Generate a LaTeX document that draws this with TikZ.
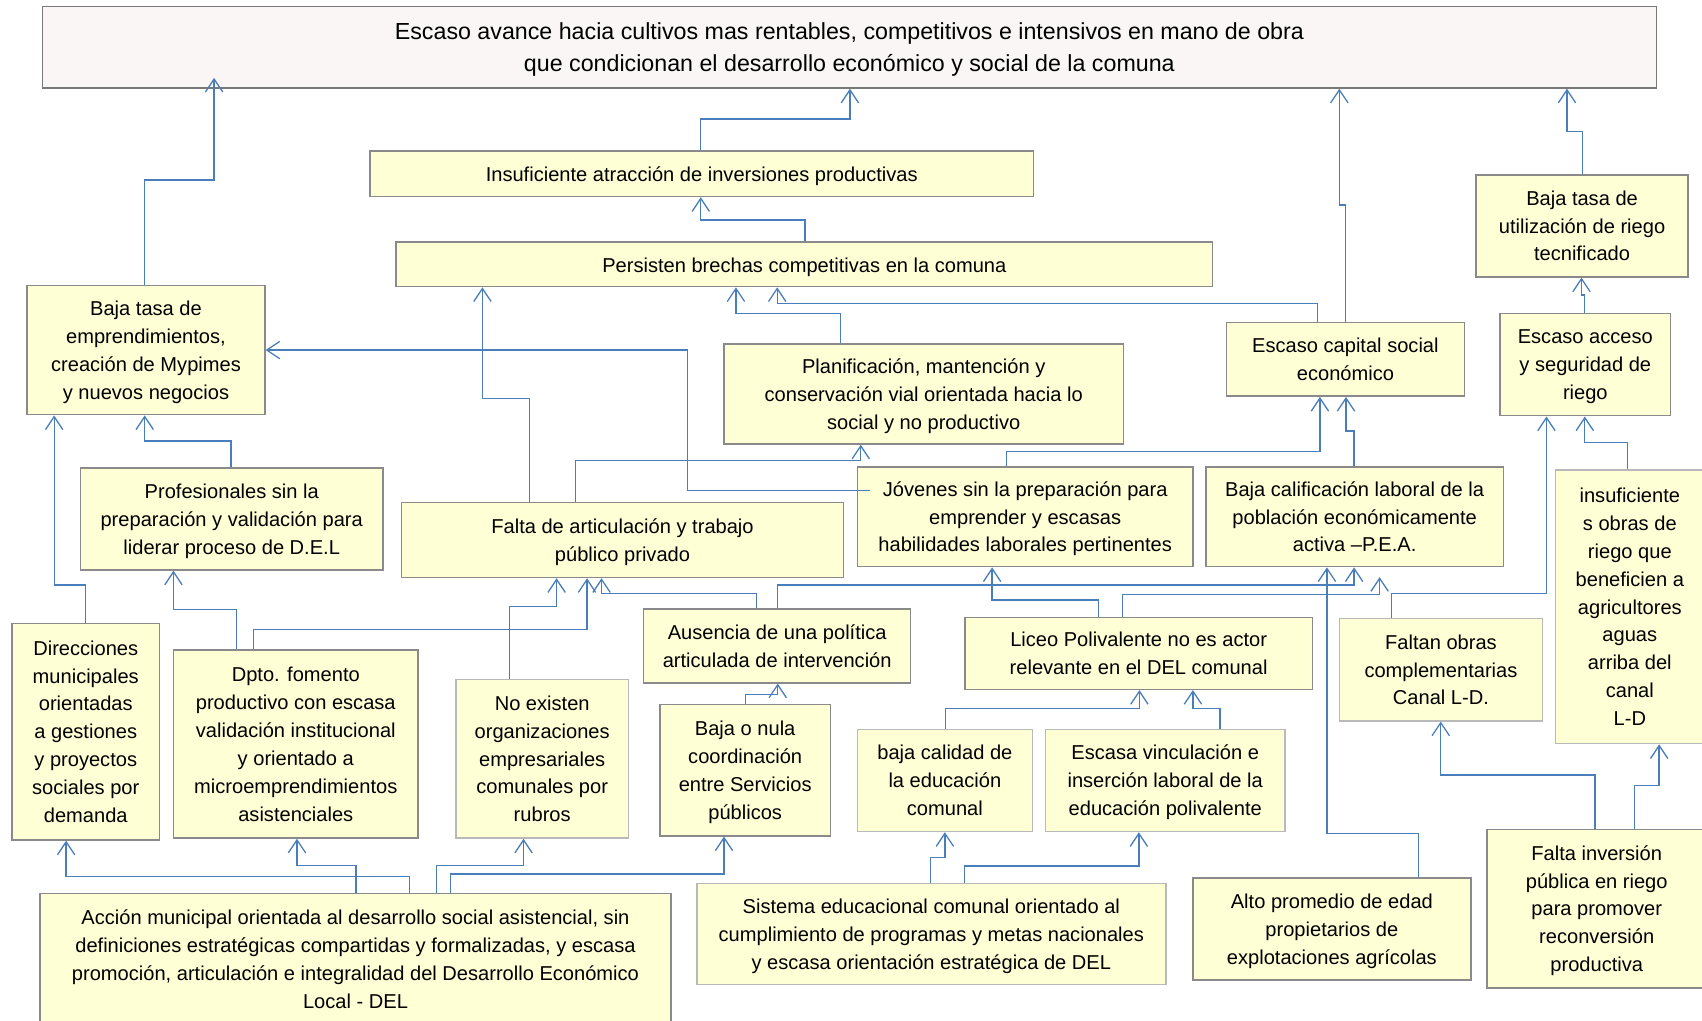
\documentclass[tikz,border=0pt]{standalone}
\usepackage{fontspec}
\setmainfont{Liberation Sans}
\usetikzlibrary{arrows.meta,calc}

\definecolor{linkblue}{HTML}{4A7EBB}
\definecolor{boxfill}{HTML}{FFFFD6}
\definecolor{topfill}{HTML}{FAF6F6}
\definecolor{edgegray}{HTML}{8A8A8A}
\definecolor{edgelight}{HTML}{B9B9B9}

% fixed first-line height, so every box centres its text the same way
\newcommand\lineroof{\rule{0pt}{1.42em}}

\tikzset{
  cause/.style={draw=edgegray, line width=1.4pt, fill=boxfill, inner sep=0pt,
    align=center, font=\fontsize{18.5}{25.7}\selectfont,
    text depth=-1.9pt, execute at begin node=\lineroof},
  oneline/.style={text depth=11pt},
  soft/.style={draw=edgelight},
  link/.style={draw=linkblue, line width=1.2pt,
    -{Straight Barb[length=12pt,width=16pt]}},
}

\begin{document}
\begin{tikzpicture}[x=1pt,y=-1pt]
\useasboundingbox (0,0) rectangle (1568,940);
\clip (0,0) rectangle (1568,940);

% ---------- effect (top) ----------
\node[cause, fill=topfill, draw=gray!95!black, minimum width=1487pt, minimum height=75pt,
      font=\fontsize{21.4}{29.3}\selectfont, text depth=-2.7pt] (top) at (782.5,43.5)
  {Escaso avance hacia cultivos mas rentables, competitivos e intensivos en mano de obra\\
   que condicionan el desarrollo económico y social de la comuna};

% ---------- upper level ----------
\node[cause, oneline, minimum width=611pt, minimum height=42pt] (insuf) at (646.5,160)
  {Insuficiente atracción de inversiones productivas};
\node[cause, oneline, minimum width=752pt, minimum height=41pt] (pers) at (741,243.5)
  {Persisten brechas competitivas en la comuna};
\node[cause, minimum width=219pt, minimum height=119pt] (bte) at (134.5,322.5)
  {Baja tasa de\\emprendimientos,\\creación de Mypimes\\y nuevos negocios};
\node[cause, minimum width=195pt, minimum height=94pt] (btr) at (1457.5,208)
  {Baja tasa de\\utilización de riego\\tecnificado};
\node[cause, minimum width=368pt, minimum height=92pt] (plan) at (851,363)
  {Planificación, mantención y\\conservación vial orientada hacia lo\\social y no productivo};
\node[cause, minimum width=219pt, minimum height=68pt] (ecs) at (1239.5,331)
  {Escaso capital social\\económico};
\node[cause, minimum width=157pt, minimum height=94pt] (eas) at (1460.5,336)
  {Escaso acceso\\y seguridad de\\riego};

% ---------- middle level ----------
\node[cause, minimum width=279pt, minimum height=94pt] (prof) at (213.5,478)
  {Profesionales sin la\\preparación y validación para\\liderar proceso de D.E.L};
\node[cause, minimum width=407pt, minimum height=69pt] (fat) at (573.5,497.5)
  {Falta de articulación y trabajo\\público privado};
\node[cause, minimum width=309pt, minimum height=92pt] (jov) at (944.5,476)
  {Jóvenes sin la preparación para\\emprender y escasas\\habilidades laborales pertinentes};
\node[cause, minimum width=274pt, minimum height=92pt] (bcl) at (1248,476)
  {Baja calificación laboral de la\\población económicamente\\activa –P.E.A.};
\node[cause, soft, minimum width=137pt, minimum height=252pt] (ins) at (1501.5,559)
  {insuficiente\\s obras de\\riego que\\beneficien a\\agricultores\\aguas\\arriba del\\canal\\L-D};

% ---------- lower level ----------
\node[cause, minimum width=135.5pt, minimum height=199.5pt] (dir) at (79,674)
  {Direcciones\\municipales\\orientadas\\a gestiones\\y proyectos\\sociales por\\demanda};
\node[cause, minimum width=225pt, minimum height=173pt] (dpto) at (272.5,685.5)
  {Dpto. fomento\\productivo con escasa\\validación institucional\\y orientado a\\microemprendimientos\\asistenciales};
\node[cause, soft, minimum width=159pt, minimum height=146pt] (noex) at (499.5,699)
  {No existen\\organizaciones\\empresariales\\comunales por\\rubros};
\node[cause, minimum width=246pt, minimum height=68pt] (aus) at (716,595)
  {Ausencia de una política\\articulada de intervención};
\node[cause, minimum width=157pt, minimum height=121pt] (bon) at (686.5,709.5)
  {Baja o nula\\coordinación\\entre Servicios\\públicos};
\node[cause, minimum width=320pt, minimum height=66pt] (lic) at (1049,602)
  {Liceo Polivalente no es actor\\relevante en el DEL comunal};
\node[cause, soft, minimum width=187pt, minimum height=94pt] (fob) at (1327.5,617)
  {Faltan obras\\complementarias\\Canal L-D.};
\node[cause, soft, minimum width=161pt, minimum height=94pt] (bca) at (870.5,719)
  {baja calidad de\\la educación\\comunal};
\node[cause, soft, minimum width=221pt, minimum height=94pt] (evi) at (1073.5,719)
  {Escasa vinculación e\\inserción laboral de la\\educación polivalente};

% ---------- root causes ----------
\node[cause, minimum width=581pt, minimum height=121pt] (acc) at (327.5,883.5)
  {Acción municipal orientada al desarrollo social asistencial, sin\\
   definiciones estratégicas compartidas y formalizadas, y escasa\\
   promoción, articulación e integralidad del Desarrollo Económico\\
   Local - DEL};
\node[cause, soft, minimum width=432pt, minimum height=93pt] (sis) at (858,860.5)
  {Sistema educacional comunal orientado al\\cumplimiento de programas y metas nacionales\\y escasa orientación estratégica de DEL};
\node[cause, minimum width=256pt, minimum height=94pt] (alt) at (1227,856)
  {Alto promedio de edad\\propietarios de\\explotaciones agrícolas};
\node[cause, minimum width=202pt, minimum height=146pt] (fin) at (1471,837)
  {Falta inversión\\pública en riego\\para promover\\reconversión\\productiva};

% ---------- connectors into the effect ----------
\draw[link] (insuf.north -| 645.6,0) |- (783,109.6) -- (top.south -| 783,0);
\draw[link] (bte.north -| 133.3,0) |- (197.2,165.8) -- ($(top.south -| 197.2,0)+(0,-10)$);
\draw[link] (ecs.north -| 1239.4,0) |- (1233.9,188.9) -- (top.south -| 1233.9,0);
\draw[link] (btr.north -| 1458,0) |- (1443.6,121.3) -- (top.south -| 1443.6,0);

% ---------- upper level links ----------
\draw[link] (pers.north -| 741.5,0) |- (645.6,202.7) -- (insuf.south -| 645.6,0);
\draw[link] (eas.north -| 1460,0) |- (1457,271.8) -- (btr.south -| 1457,0);
\draw[link] (plan.north -| 774,0) |- (678,289) -- (pers.south -| 678,0);
\draw[link] (ecs.north -| 1214,0) |- (716,279.8) -- (pers.south -| 716,0);
\draw[link] (fat.north -| 487.8,0) |- (444.4,367.3) -- (pers.south -| 444.4,0);
\draw[link] ($(jov.west |- 0,452)+(12,0)$) -- (633.1,452) |- (bte.east);
\draw[link] (fat.north -| 530.3,0) |- (793,424.4) -- (plan.south -| 793,0);
\draw[link] (jov.north -| 927,0) |- (1216,416) -- (ecs.south -| 1216,0);
\draw[link] (bcl.north -| 1247.5,0) |- (1240,397) -- (ecs.south -| 1240,0);
\draw[link] (prof.north -| 212.7,0) |- (133.3,406.3) -- (bte.south -| 133.3,0);
\draw[link] (dir.north -| 78.9,0) |- (49.9,539) -- (bte.south -| 49.9,0);
\draw[link] (ins.north -| 1499.6,0) |- (1460,407.8) -- (eas.south -| 1460,0);
\draw[link] (fob.north -| 1282,0) |- (1424.7,547) -- (eas.south -| 1424.7,0);

% ---------- middle level links ----------
\draw[link] (dpto.north -| 217.7,0) |- (159.8,561.6) -- (prof.south -| 159.8,0);
\draw[link] (dpto.north -| 233.7,0) |- (540.8,580) -- (fat.south -| 540.8,0);
\draw[link] (noex.north -| 469.4,0) |- (512.8,558.9) -- (fat.south -| 512.8,0);
\draw[link] (aus.north -| 697,0) |- (554.2,546.6) -- (fat.south -| 554.2,0);
\draw[link] (aus.north -| 716,0) |- (1247.5,539) -- (bcl.south -| 1247.5,0);
\draw[link] (lic.north -| 1011.7,0) |- (914,552.7) -- (jov.south -| 914,0);
\draw[link, shorten >=9pt] (lic.north -| 1034,0) |- (1271,547.5) -- (bcl.south -| 1271,0);
\draw[link] (alt.north -| 1307,0) |- (1222.5,767.7) -- (bcl.south -| 1222.5,0);
\draw[link] (fin.north -| 1469.4,0) |- (1327.3,714) -- (fob.south -| 1327.3,0);
\draw[link] (fin.north -| 1506,0) |- (1528.5,723.8) -- (ins.south -| 1528.5,0);

% ---------- lower level links ----------
\draw[link] (bca.north -| 871,0) |- (1049.7,653) -- (lic.south -| 1049.7,0);
\draw[link] (evi.north -| 1124,0) |- (1099,653) -- (lic.south -| 1099,0);
\draw[link] (sis.north -| 857.5,0) |- (870.5,789.8) -- (bca.south -| 870.5,0);
\draw[link] (sis.north -| 888.4,0) |- (1049.2,797.8) -- (evi.south -| 1049.2,0);
\draw[link] (bon.north -| 686.6,0) |- (716.5,639.6) -- (aus.south -| 716.5,0);
\draw[link] (acc.north -| 377,0) |- (60.9,807.3) -- (dir.south -| 60.9,0);
\draw[link] (acc.north -| 328,0) |- (273.6,797.5) -- (dpto.south -| 273.6,0);
\draw[link] (acc.north -| 402,0) |- (482.3,797.5) -- (noex.south -| 482.3,0);
\draw[link] (acc.north -| 415,0) |- (667,805.2) -- (bon.south -| 667,0);
\end{tikzpicture}
\end{document}
